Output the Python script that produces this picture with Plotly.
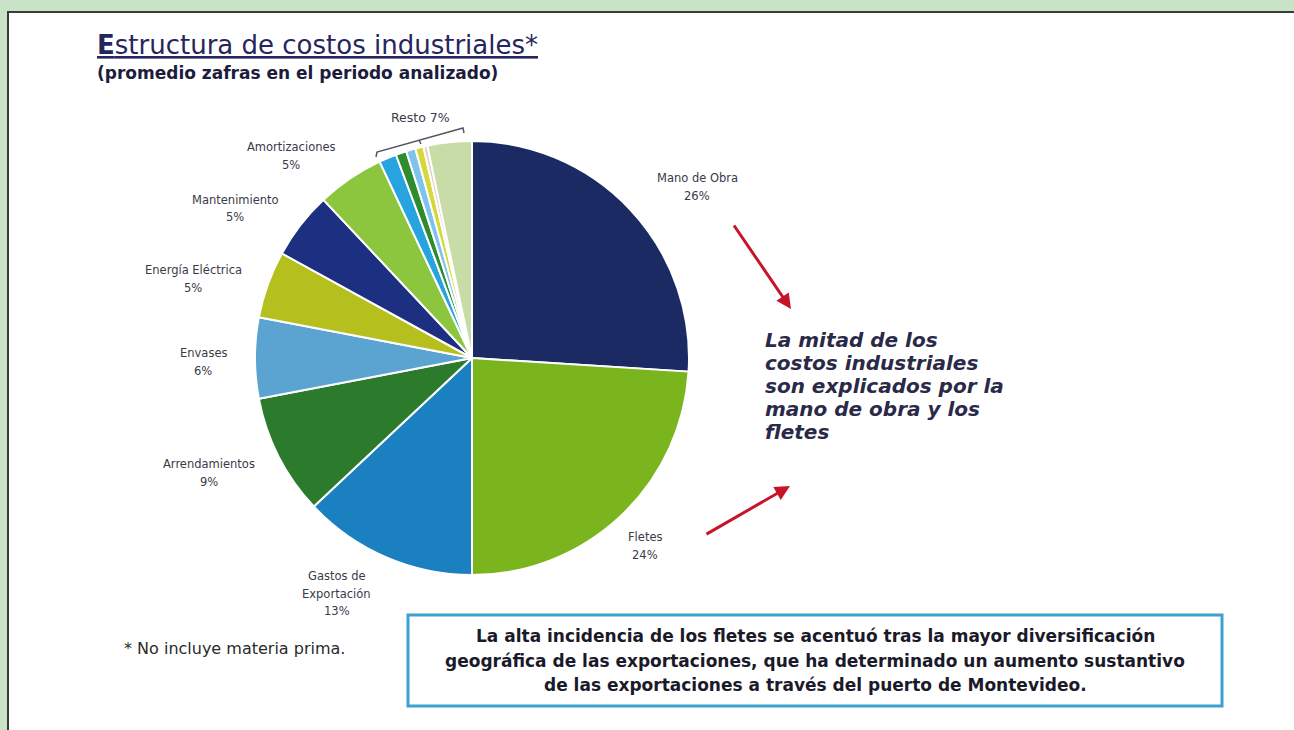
import plotly.graph_objects as go

W, H = 1294, 730

# ---------------- data ----------------
categories = ["Mano de Obra", "Fletes", "Gastos de Exportación", "Arrendamientos",
              "Envases", "Energía Eléctrica", "Mantenimiento", "Amortizaciones"]
values = [26, 24, 13, 9, 6, 5, 5, 5]
resto_parts = ["Resto a", "Resto b", "Resto c", "Resto d", "Resto e", "Resto f"]
resto_values = [1.3, 0.8, 0.7, 0.6, 0.3, 3.3]
resto_total = 7

main_colors = ["#1b2a63", "#7ab51d", "#1a80c0", "#2c7a2c",
               "#5ba3d0", "#b5c01e", "#1d2f80", "#8cc63e"]
resto_colors = ["#27a4e0", "#2e8b2e", "#7fc3ea", "#d6d83a", "#e6cfc8", "#c8dca8"]

label_lines = {
    "Mano de Obra": ["Mano de Obra"],
    "Fletes": ["Fletes"],
    "Gastos de Exportación": ["Gastos de", "Exportación"],
    "Arrendamientos": ["Arrendamientos"],
    "Envases": ["Envases"],
    "Energía Eléctrica": ["Energía Eléctrica"],
    "Mantenimiento": ["Mantenimiento"],
    "Amortizaciones": ["Amortizaciones"],
}

title = "Estructura de costos industriales*"
subtitle = "(promedio zafras en el periodo analizado)"
note = "* No incluye materia prima."
side_text = ["La mitad de los", "costos industriales", "son explicados por la",
             "mano de obra y los", "fletes"]
box_text = ["La alta incidencia de los fletes se acentuó tras la mayor diversificación",
            "geográfica de las exportaciones, que ha determinado un aumento sustantivo",
            "de las exportaciones a través del puerto de Montevideo."]

# ---------------- helpers ----------------
def X(px):
    return px / W

def Y(py):
    return 1 - py / H

cx, cy, r = 472, 358, 217

fig = go.Figure()
fig.add_trace(go.Pie(
    labels=categories + resto_parts,
    values=values + resto_values,
    marker=dict(colors=main_colors + resto_colors, line=dict(color="white", width=2)),
    sort=False, direction="clockwise", rotation=0,
    textinfo="none", showlegend=False,
    domain=dict(x=[X(cx - r), X(cx + r)], y=[Y(cy + r), Y(cy - r)]),
))

annotations = []

def add_lines(lines, x, y0, dy, size, color, family="DejaVu Sans", xanchor="center", fmt="{}"):
    for i, t in enumerate(lines):
        annotations.append(dict(
            x=X(x), y=Y(y0 + i * dy), xref="paper", yref="paper",
            text=fmt.format(t), showarrow=False, xanchor=xanchor, yanchor="middle",
            font=dict(family=family, size=size, color=color)))

# pie labels (label + percentage)
label_pos = {
    "Mano de Obra": (697, 178),
    "Fletes": (645, 537),
    "Gastos de Exportación": (337, 576),
    "Arrendamientos": (209, 464),
    "Envases": (203, 353),
    "Energía Eléctrica": (193, 270),
    "Mantenimiento": (235, 200),
    "Amortizaciones": (291, 147),
}
lab_col = "#3a3a4a"
for cat, v in zip(categories, values):
    px, py = label_pos[cat]
    add_lines(label_lines[cat] + [f"{v}%"], px, py, 17.5, 11.5, lab_col)

# resto label
add_lines([f"Resto {resto_total}%"], 420, 117, 0, 12.5, lab_col)

# title and subtitle
annotations.append(dict(x=X(95), y=Y(45), xref="paper", yref="paper", showarrow=False,
                        xanchor="left", yanchor="middle",
                        text="<u><b>E</b>" + title[1:] + "</u>",
                        font=dict(family="DejaVu Sans", size=26, color="#26265c")))
add_lines([subtitle], 95, 73, 0, 17, "#1c1c3c", xanchor="left", fmt="<b>{}</b>")

# side text
add_lines(side_text, 763, 340, 23, 20, "#2a2a48", xanchor="left", fmt="<b><i>{}</i></b>")

# footnote
add_lines([note], 122, 648, 0, 16, "#2a2a2a", xanchor="left")

# box text
add_lines(box_text, 815, 636, 24.5, 17, "#1a1a2a", fmt="<b>{}</b>")

# arrows
arrow_col = "#c8142a"
for (x0, y0, x1, y1) in [(733, 224, 791, 309), (705, 535, 790, 486)]:
    annotations.append(dict(x=X(x1), y=Y(y1), xref="paper", yref="paper",
                            ax=x0 - x1, ay=y0 - y1, axref="pixel", ayref="pixel",
                            showarrow=True, arrowhead=2, arrowsize=1, arrowwidth=3,
                            arrowcolor=arrow_col, text=""))

shapes = []
# white panel
shapes.append(dict(type="rect", xref="paper", yref="paper", layer="below",
                   x0=X(8), x1=1.02, y0=-0.02, y1=Y(12),
                   fillcolor="white", line=dict(color="#3a3a3a", width=2)))
# text box
shapes.append(dict(type="rect", xref="paper", yref="paper", layer="below",
                   x0=X(408), x1=X(1222), y0=Y(706), y1=Y(615),
                   fillcolor="white", line=dict(color="#3ba0d2", width=3)))
# resto bracket
def P(pts):
    s = ""
    for i, (a, b) in enumerate(pts):
        s += ("M" if i == 0 else "L") + f"{X(a):.5f},{Y(b):.5f} "
    return s
shapes.append(dict(type="path", xref="paper", yref="paper",
                   path=P([(376, 157), (377, 152), (463, 128), (464, 133)]),
                   line=dict(color="#555566", width=1.5)))
shapes.append(dict(type="path", xref="paper", yref="paper",
                   path=P([(419, 140), (421, 144)]),
                   line=dict(color="#555566", width=1.5)))

fig.update_layout(
    width=W, height=H, margin=dict(l=0, r=0, t=0, b=0),
    paper_bgcolor="#c9e3c7", plot_bgcolor="white",
    annotations=annotations, shapes=shapes,
)

fig.write_html("out.html", config={"displayModeBar": False},
               post_script="document.body.style.margin='0';document.body.style.overflow='hidden';")
